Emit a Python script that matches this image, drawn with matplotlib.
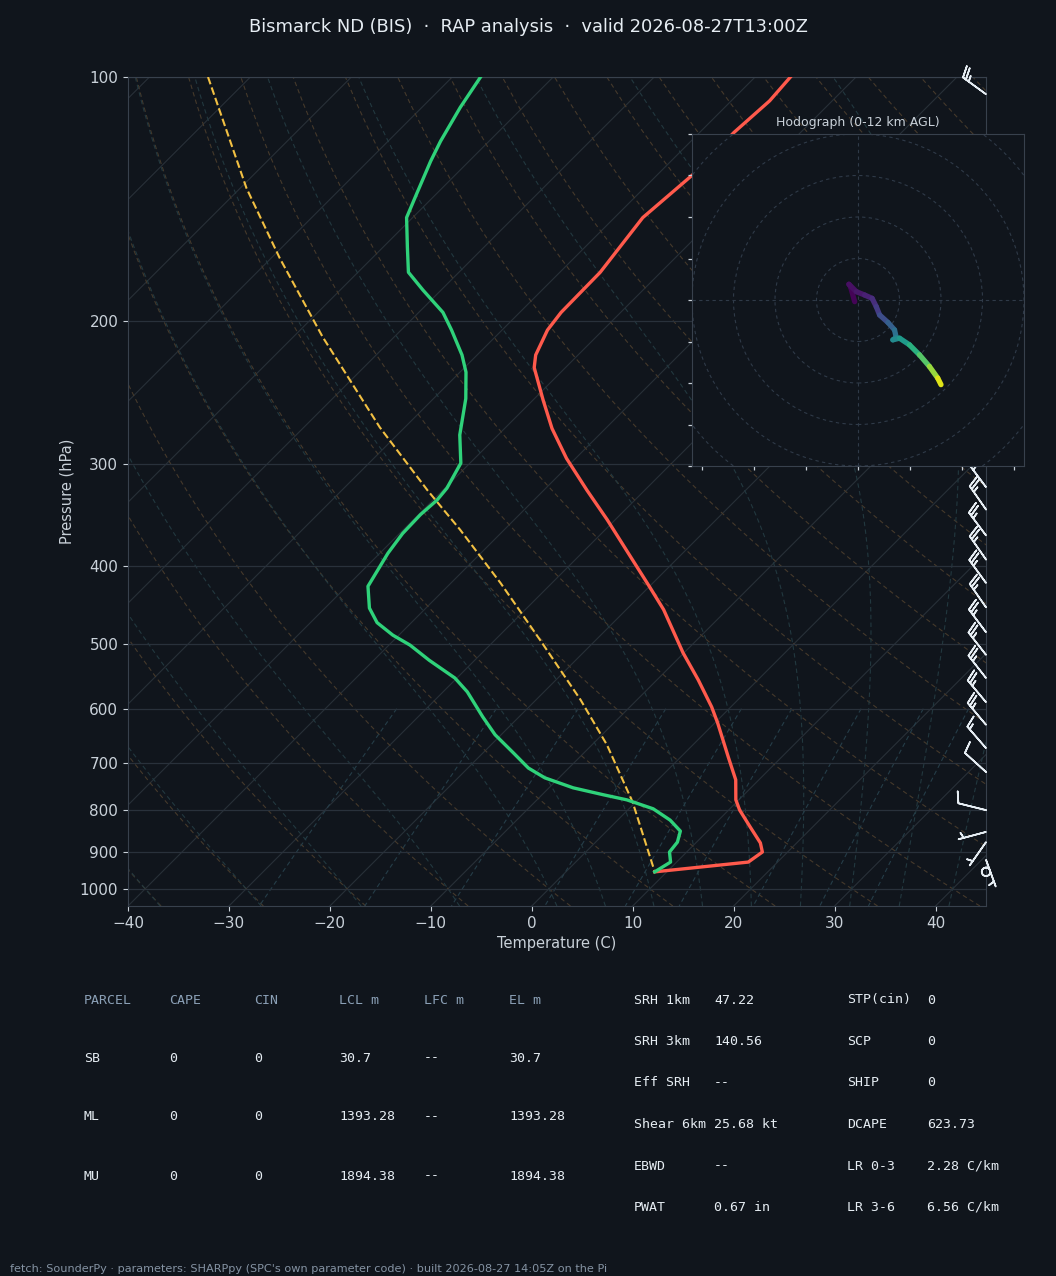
import numpy as np
import matplotlib
matplotlib.use("Agg")
import matplotlib.pyplot as plt
from matplotlib import transforms
from matplotlib.collections import LineCollection
from matplotlib.ticker import NullLocator

BG = "#10151c"
FG = "#e6edf3"
TICK = "#c9d1d9"
SPINE = "#38414d"
GRID = "#29313b"
MUTED = "#8ba0b6"

# --- sounding (hPa, degC) ---
temp_p = [100, 107, 117, 132, 149, 174, 195, 205, 220, 228, 250, 271, 295, 323,
          351, 390, 425, 453, 512, 553, 597, 625, 688, 734, 777, 800, 839, 878,
          901, 927, 953]
temp_c = [-56.5, -56.2, -56.6, -56.5, -57.2, -56.0, -55.9, -55.5, -54.2, -53.1,
          -49.0, -45.3, -40.9, -35.7, -30.8, -24.8, -19.9, -16.3, -10.1, -5.9,
          -1.9, 0.3, 4.7, 7.7, 9.7, 11.1, 13.8, 16.4, 17.5, 17.1, 8.8]

dwpt_p = [100, 109, 120, 127, 139, 149, 162, 174, 183, 195, 205, 220, 231, 249,
          276, 299, 321, 332, 346, 365, 386, 424, 451, 470, 487, 501, 523, 550,
          572, 614, 646, 680, 710, 730, 751, 766, 777, 797, 823, 849, 876, 901,
          927, 953]
dwpt_c = [-87.2, -86.2, -84.8, -83.8, -82.0, -80.6, -77.6, -75.0, -71.8, -67.6,
          -65.0, -61.5, -59.4, -56.8, -53.8, -50.9, -49.8, -49.6, -49.8, -49.7,
          -49.2, -47.9, -45.6, -43.4, -40.6, -37.9, -34.5, -30.2, -27.6, -23.6,
          -20.6, -17.0, -14.0, -11.4, -7.6, -3.9, -1.1, 2.4, 5.2, 7.3, 8.1, 8.3,
          9.4, 8.8]

parcel_p = [100, 137, 167, 209, 270, 323, 361, 420, 494, 585, 665, 782, 953]
parcel_c = [-114.2, -99.4, -89.2, -77.1, -62.5, -51.5, -44.4, -35.1, -25.5,
            -15.6, -8.5, -0.3, 8.8]

# wind barbs (hPa, kt)
barb_p = [105, 150, 200, 250, 300, 320, 341, 367, 393, 420, 450, 483, 515, 550,
          589, 628, 671, 718, 800, 851, 876, 921, 953]
barb_u = [20.2, 28.3, 28.3, 23.4, 19.3, 15.0, 14.3, 15.0, 14.3, 14.7, 14.3,
          15.0, 15.4, 15.4, 16.1, 16.1, 9.8, 7.4, 9.7, 4.83, 2.87, -1.71, 0.0]
barb_v = [-14.7, -28.3, -28.3, -26.0, -23.0, -20.0, -20.5, -20.0, -20.5, -20.2,
          -20.5, -20.0, -19.7, -19.7, -19.2, -19.2, -11.3, -6.7, -2.4, 1.29,
          4.10, 4.70, 0.0]

# hodograph trace (m/s) and height AGL (km)
hodo_u = [-0.8, -1.8, -2.2, -0.4, 1.6, 3.4, 4.4, 5.2, 7.2, 8.8, 9.2, 8.4, 10.0,
          12.4, 14.8, 17.2, 19.2, 20.0]
hodo_v = [-0.4, 3.2, 3.8, 2.0, 1.2, 0.4, -1.6, -3.6, -5.4, -7.2, -9.0, -9.6,
          -9.2, -10.8, -13.2, -16.0, -18.8, -20.4]
hodo_z = [0.0, 0.2, 0.35, 0.6, 0.9, 1.3, 1.8, 2.4, 3.2, 4.0, 4.8, 5.4, 6.0,
          7.0, 8.2, 9.5, 10.8, 12.0]

# parameter table
parcel_header = ["PARCEL", "CAPE", "CIN", "LCL m", "LFC m", "EL m"]
parcel_rows = [
    ["SB", "0", "0", "30.7", "--", "30.7"],
    ["ML", "0", "0", "1393.28", "--", "1393.28"],
    ["MU", "0", "0", "1894.38", "--", "1894.38"],
]
kin_labels = ["SRH 1km", "SRH 3km", "Eff SRH", "Shear 6km", "EBWD", "PWAT"]
kin_values = ["47.22", "140.56", "--", "25.68 kt", "--", "0.67 in"]
comp_labels = ["STP(cin)", "SCP", "SHIP", "DCAPE", "LR 0-3", "LR 3-6"]
comp_values = ["0", "0", "0", "623.73", "2.28 C/km", "6.56 C/km"]

title = "Bismarck ND (BIS)  \u00b7  RAP analysis  \u00b7  valid 2026-08-27T13:00Z"
footer = ("fetch: SounderPy \u00b7 parameters: SHARPpy (SPC's own parameter code)"
          " \u00b7 built 2026-08-27 14:05Z on the Pi")


def skew_transform(ax):
    # 45 degree skew in display space, done in axes coords about the bottom edge
    fig = ax.figure
    box = ax.get_position()
    w = box.width * fig.get_figwidth()
    h = box.height * fig.get_figheight()
    shear = transforms.Affine2D().skew(np.arctan(h / w), 0)
    return ax.transScale + ax.transLimits + shear + ax.transAxes


def moist_adiabats(t0_c):
    Rd, Cp, Lv, eps = 287.04, 1005.7, 2.501e6, 0.622

    def dtdp(p, t):
        es = 6.112 * np.exp(17.67 * (t - 273.15) / (t - 29.65))
        rs = eps * es / np.maximum(p - es, 1.0)
        return (Rd * t + Lv * rs) / (Cp + Lv ** 2 * rs * eps / (Rd * t ** 2)) / p

    t_start = np.asarray(t0_c, float) + 273.15
    pieces = []
    for p_path in (np.arange(1000.0, 99.0, -2.0), np.arange(1000.0, 1052.0, 2.0)):
        t = t_start.copy()
        rows = [t.copy()]
        for p1, p2 in zip(p_path[:-1], p_path[1:]):
            dp = p2 - p1
            k1 = dtdp(p1, t)
            k2 = dtdp(p1 + dp / 2, t + k1 * dp / 2)
            k3 = dtdp(p1 + dp / 2, t + k2 * dp / 2)
            k4 = dtdp(p2, t + k3 * dp)
            t = t + dp * (k1 + 2 * k2 + 2 * k3 + k4) / 6
            rows.append(t.copy())
        pieces.append((p_path, np.array(rows) - 273.15))
    (pu, tu), (pd_, td) = pieces
    p_all = np.concatenate([pd_[::-1], pu[1:]])
    t_all = np.concatenate([td[::-1], tu[1:]])
    return p_all, t_all


W_PX, H_PX = 1056, 1276
fig = plt.figure(figsize=(W_PX / 100, H_PX / 100), dpi=100, facecolor=BG)
ax = fig.add_axes([128 / W_PX, 1 - 906 / H_PX, 858 / W_PX, 829 / H_PX])
ax.set_facecolor(BG)
ax.set_yscale("log")
ax.set_xlim(-40, 45)
ax.set_ylim(1050, 100)
skew = skew_transform(ax)

# background: isotherms, dry/moist adiabats, mixing ratio lines
for t in np.arange(-130, 50, 10):
    ax.plot([t, t], [1050, 100], color="#283038", lw=0.8, transform=skew, zorder=1)

p_bg = np.linspace(1050, 100, 120)
for t0 in np.arange(-40, 45 + 201, 10):
    t = (t0 + 273.15) * (p_bg / 1000.0) ** 0.2857 - 273.15
    ax.plot(t, p_bg, color="#45392b", lw=0.8, ls=(0, (4, 3)), transform=skew, zorder=1)

ma_t0 = np.concatenate([np.arange(-40, 0, 10), np.arange(0, 50, 5)])
ma_p, ma_t = moist_adiabats(ma_t0)
for i in range(len(ma_t0)):
    ax.plot(ma_t[:, i], ma_p, color="#22383f", lw=0.8, ls=(0, (4, 3)),
            transform=skew, zorder=1)

p_mix = np.linspace(600, 1050, 40)
for w in [0.0004, 0.001, 0.002, 0.004, 0.007, 0.01, 0.016, 0.024, 0.032]:
    e = p_mix * w / (0.622 + w)
    le = np.log(e / 6.112)
    td = 243.5 * le / (17.67 - le)
    ax.plot(td, p_mix, color="#253d48", lw=0.8, ls=(0, (4, 3)), transform=skew, zorder=1)

# profiles
ax.plot(parcel_c, parcel_p, color="#f2c043", lw=1.5, ls="--", transform=skew, zorder=4)
ax.plot(temp_c, temp_p, color="#ff5a4c", lw=2.4, transform=skew, zorder=5,
        solid_joinstyle="round")
ax.plot(dwpt_c, dwpt_p, color="#2fd27a", lw=2.4, transform=skew, zorder=5,
        solid_joinstyle="round")

barb_tr = transforms.blended_transform_factory(ax.transAxes, ax.transData)
ax.barbs(np.ones(len(barb_p)), barb_p, barb_u, barb_v, transform=barb_tr,
         clip_on=False, length=6.4, color=FG, linewidth=1.2, zorder=6)

p_ticks = [100, 200, 300, 400, 500, 600, 700, 800, 900, 1000]
ax.set_yticks(p_ticks, labels=[str(p) for p in p_ticks])
ax.yaxis.set_minor_locator(NullLocator())
ax.set_xticks(np.arange(-40, 41, 10))
ax.yaxis.grid(True, color=GRID, lw=0.9)
ax.xaxis.grid(False)
ax.tick_params(colors=TICK, labelsize=11, length=3.5, width=0.8)
for sp in ax.spines.values():
    sp.set_color(SPINE)
ax.set_xlabel("Temperature (C)", color=TICK, fontsize=10.5)
ax.set_ylabel("Pressure (hPa)", color=TICK, fontsize=10.5)
ax.set_xlim(-40, 45)
ax.set_ylim(1050, 100)

# hodograph inset
hax = fig.add_axes([692 / W_PX, 1 - 466 / H_PX, 332 / W_PX, 332 / H_PX])
hax.set_facecolor(BG)
ring = "#2f3a48"
for r in range(10, 70, 10):
    hax.add_patch(plt.Circle((0, 0), r, fill=False, ec=ring, lw=0.8, ls=(0, (3, 3))))
hax.axhline(0, color=ring, lw=0.8, ls=(0, (3, 3)))
hax.axvline(0, color=ring, lw=0.8, ls=(0, (3, 3)))
pts = np.column_stack([hodo_u, hodo_v])
segs = np.stack([pts[:-1], pts[1:]], axis=1)
zmid = (np.array(hodo_z[:-1]) + np.array(hodo_z[1:])) / 2
lc = LineCollection(segs, cmap="viridis", norm=plt.Normalize(0, 12), linewidths=3.8,
                    capstyle="round", joinstyle="round")
lc.set_array(zmid)
hax.add_collection(lc)
hax.set_xlim(-40, 40)
hax.set_ylim(-40, 40)
hax.set_xticks(np.arange(-37.5, 40, 12.5))
hax.set_yticks(np.arange(-40, 41, 10))
hax.tick_params(colors=TICK, labelleft=False, labelbottom=False, length=3, width=0.9)
for sp in hax.spines.values():
    sp.set_color(SPINE)
hax.set_title("Hodograph (0-12 km AGL)", color=TICK, fontsize=9, pad=6)

# title, table, footer
fig.text(0.5, 1 - 27 / H_PX, title, ha="center", va="center", color=FG, fontsize=12.9)


def put(xpx, ypx, s, color=FG, **kw):
    fig.text(xpx / W_PX, 1 - ypx / H_PX, s, ha="left", va="center", color=color,
             family="DejaVu Sans Mono", fontsize=9.5, **kw)


col_x = [84, 169, 254, 339, 424, 509]
for x, s in zip(col_x, parcel_header):
    put(x, 1000, s, color=MUTED)
for row, y in zip(parcel_rows, [1058, 1117, 1176]):
    for x, s in zip(col_x, row):
        put(x, y, s)

for i in range(len(kin_labels)):
    y = 1000 + 41.5 * i
    put(634, y, kin_labels[i])
    put(714, y, kin_values[i])
    put(847, y, comp_labels[i])
    put(927, y, comp_values[i])

fig.text(10 / W_PX, 1 - 1269 / H_PX, footer, ha="left", va="center", color="#8593a3",
         fontsize=8.1)

fig.savefig("out.png", dpi=100, facecolor=BG)
